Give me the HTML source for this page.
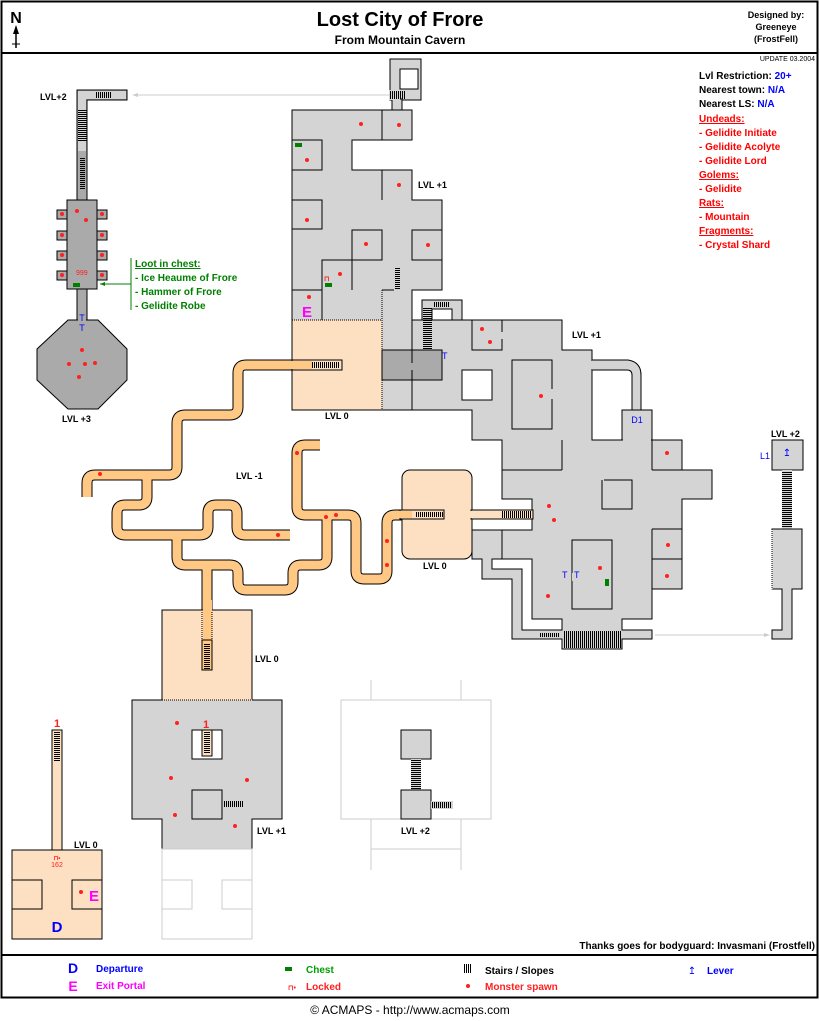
<!DOCTYPE html>
<html><head><meta charset="utf-8"><style>
html,body{margin:0;padding:0;background:#fff}
svg{display:block}
text{font-family:"Liberation Sans",sans-serif}
</style></head><body>
<svg width="820" height="1021" viewBox="0 0 820 1021" xmlns="http://www.w3.org/2000/svg" xmlns:xlink="http://www.w3.org/1999/xlink" font-weight="bold">
<defs>
<pattern id="hs" width="3" height="2" patternUnits="userSpaceOnUse"><rect width="3" height="1" fill="#000"/></pattern>
<pattern id="vs" width="2" height="3" patternUnits="userSpaceOnUse"><rect width="1" height="3" fill="#000"/></pattern>
<g id="tp">
<path d="M292,365 L246,365 Q238,365 238,373 L238,407 Q238,415 230,415 L185,415 Q177,415 177,423 L177,467 Q177,475 169,475 L95,475 Q87,475 87,483 L87,497"/>
<path d="M147,475 L147,497 Q147,505 139,505 L125,505 Q117,505 117,513 L117,527 Q117,535 125,535 L200,535 Q208,535 208,527 L208,513 Q208,505 216,505 L229,505 Q237,505 237,513 L237,527 Q237,535 245,535 L290,535"/>
<path d="M177,535 L177,557 Q177,565 185,565 L230,565 Q238,565 238,573 L238,582 Q238,590 246,590 L285,590 Q293,590 293,582 L293,573 Q293,565 301,565 L319,565 Q327,565 327,557 L327,515"/>
<path d="M207,565 L207,612"/>
<path d="M320,445 L305,445 Q297,445 297,453 L297,507 Q297,515 305,515 L348,515 Q356,515 356,523 L356,571 Q356,579 364,579 L379,579 Q387,579 387,571 L387,523 Q387,515 395,515 L403,515"/>
</g>
</defs>
<rect x="0" y="0" width="820" height="1021" fill="#fff"/>
<rect x="1.5" y="1.5" width="816" height="996" fill="none" stroke="#000" stroke-width="2"/>
<line x1="1" y1="53" x2="818" y2="53" stroke="#000" stroke-width="2"/>
<line x1="1" y1="955" x2="818" y2="955" stroke="#000" stroke-width="2"/>

<text x="16" y="23" font-size="16" text-anchor="middle">N</text>
<line x1="16" y1="27" x2="16" y2="48" stroke="#000" stroke-width="1.5"/>
<polygon points="16,25 13,34 19,34" fill="#000"/>
<line x1="12" y1="44" x2="20" y2="44" stroke="#000"/>
<text x="400" y="26" font-size="20" text-anchor="middle">Lost City of Frore</text>
<text x="400" y="44" font-size="12" text-anchor="middle">From Mountain Cavern</text>
<text x="776" y="18" font-size="9" text-anchor="middle">Designed by:</text>
<text x="776" y="30" font-size="9" text-anchor="middle">Greeneye</text>
<text x="776" y="42" font-size="9" text-anchor="middle">(FrostFell)</text>
<text x="815" y="61" font-size="7" font-weight="normal" text-anchor="end" font-family="Liberation Mono">UPDATE 03.2004</text>

<g font-size="10">
<text x="699" y="79">Lvl Restriction:  <tspan fill="#0000ff">20+</tspan></text>
<text x="699" y="93">Nearest town: <tspan fill="#0000ff">N/A</tspan></text>
<text x="699" y="107">Nearest LS:  <tspan fill="#0000ff">N/A</tspan></text>
<g fill="#ff0000">
<text x="699" y="122" text-decoration="underline">Undeads:</text>
<text x="699" y="136">- Gelidite Initiate</text>
<text x="699" y="150">- Gelidite Acolyte</text>
<text x="699" y="164">- Gelidite Lord</text>
<text x="699" y="178" text-decoration="underline">Golems:</text>
<text x="699" y="192">- Gelidite</text>
<text x="699" y="206" text-decoration="underline">Rats:</text>
<text x="699" y="220">- Mountain</text>
<text x="699" y="234" text-decoration="underline">Fragments:</text>
<text x="699" y="248">- Crystal Shard</text>
</g></g>

<rect x="390" y="59" width="31" height="41" fill="#d4d4d4" stroke="#000"/>
<rect x="400" y="69" width="18" height="20" fill="#fff" stroke="#000"/>
<rect x="392" y="99" width="10" height="12" fill="#d4d4d4" stroke="#000"/>
<rect x="389" y="90" width="11" height="10" fill="#d4d4d4"/>
<rect x="390" y="91" width="16" height="8" fill="url(#vs)"/>
<line x1="138" y1="95" x2="389" y2="95" stroke="#ccc"/>
<polygon points="132,95 138,93 138,97" fill="#ccc"/>

<path d="M77,200 L77,90 L127,90 L127,100 L87,100 L87,200 Z" fill="#aaa" stroke="#000"/>
<rect x="78" y="91" width="48" height="8" fill="#d4d4d4"/>
<rect x="78" y="91" width="8" height="60" fill="#d4d4d4"/>
<rect x="96" y="92" width="16" height="6" fill="url(#vs)"/>
<rect x="78" y="110" width="9" height="32" fill="url(#hs)"/>
<rect x="80" y="158" width="5" height="32" fill="url(#hs)"/>
<text x="40" y="100" font-size="9">LVL+2</text>

<g fill="#aaa" stroke="#000">
<rect x="57" y="210" width="10" height="9"/><rect x="97" y="210" width="10" height="9"/>
<rect x="57" y="231" width="10" height="9"/><rect x="97" y="231" width="10" height="9"/>
<rect x="57" y="251" width="10" height="9"/><rect x="97" y="251" width="10" height="9"/>
<rect x="57" y="271" width="10" height="9"/><rect x="97" y="271" width="10" height="9"/>
<rect x="67" y="200" width="30" height="89"/>
<rect x="77" y="289" width="10" height="32"/>
<polygon points="68,320 98,320 127,349 127,380 98,409 68,409 37,380 37,349"/>
</g>
<rect x="78" y="318" width="8" height="4" fill="#aaa"/>
<g fill="#ff2020">
<circle cx="62" cy="214" r="2"/><circle cx="102" cy="214" r="2"/>
<circle cx="62" cy="235" r="2"/><circle cx="102" cy="235" r="2"/>
<circle cx="62" cy="255" r="2"/><circle cx="102" cy="255" r="2"/>
<circle cx="62" cy="275" r="2"/><circle cx="102" cy="275" r="2"/>
<circle cx="77" cy="211" r="2"/><circle cx="86" cy="220" r="2"/>
<circle cx="82" cy="350" r="2"/><circle cx="69" cy="364" r="2"/><circle cx="85" cy="364" r="2"/><circle cx="95" cy="363" r="2"/><circle cx="79" cy="377" r="2"/>
</g>
<text x="76" y="275" font-size="7" fill="#ff2020" font-family="Liberation Mono" font-weight="normal">999</text>
<rect x="73" y="283" width="7" height="4" fill="#008000"/>
<text x="82" y="321" font-size="9" fill="#0000ff" font-weight="normal" text-anchor="middle">T</text>
<text x="82" y="331" font-size="9" fill="#0000ff" font-weight="normal" text-anchor="middle">T</text>
<text x="62" y="422" font-size="9">LVL +3</text>
<line x1="131" y1="258" x2="131" y2="310" stroke="#008000"/>
<line x1="100" y1="284" x2="131" y2="284" stroke="#008000"/>
<polygon points="100,284 105,282 105,286" fill="#008000"/>
<g fill="#008000" font-size="10">
<text x="135" y="267" text-decoration="underline">Loot in chest:</text>
<text x="135" y="281">- Ice Heaume of Frore</text>
<text x="135" y="295">- Hammer of Frore</text>
<text x="135" y="309">- Gelidite Robe</text>
</g>

<!-- tunnels -->
<use xlink:href="#tp" href="#tp" fill="none" stroke="#000" stroke-width="11"/>
<use xlink:href="#tp" href="#tp" fill="none" stroke="#ffc985" stroke-width="9"/>
<g fill="#ff2020">
<circle cx="100" cy="474" r="2"/><circle cx="297" cy="453" r="2"/><circle cx="326" cy="517" r="2"/><circle cx="336" cy="515" r="2"/>
<circle cx="387" cy="541" r="2"/><circle cx="387" cy="565" r="2"/><circle cx="278" cy="535" r="2"/>
</g>
<text x="236" y="479" font-size="9">LVL -1</text>

<polygon points="292,110 412,110 412,140 352,140 352,170 412,170 412,200 442,200 442,290 412,290 412,410 292,410" fill="#d4d4d4" stroke="#000"/>
<rect x="292.5" y="320" width="89.5" height="89.5" fill="#fde0c2"/>
<line x1="292" y1="320" x2="382" y2="320" stroke="#000" stroke-dasharray="1,1"/>
<line x1="382" y1="290" x2="382" y2="410" stroke="#000" stroke-dasharray="1,1"/>
<line x1="292" y1="410" x2="472" y2="410" stroke="#000"/>
<rect x="292" y="360" width="50" height="10" fill="#fde0c2" stroke="#000"/>
<rect x="282" y="361" width="30" height="8" fill="#ffc985"/>
<rect x="312" y="362" width="28" height="6" fill="url(#vs)"/>
<g fill="none" stroke="#000">
<line x1="382" y1="110" x2="382" y2="140"/>
<polyline points="292,140 322,140 322,170 292,170"/>
<line x1="382" y1="170" x2="382" y2="200"/>
<polyline points="292,200 322,200 322,229 292,229"/>
<rect x="352" y="230" width="30" height="30"/>
<polyline points="442,230 412,230 412,260 442,260"/>
<polyline points="352,260 322,260 322,290 292,290"/>
<line x1="322" y1="290" x2="322" y2="320"/>
<line x1="352" y1="260" x2="352" y2="290"/>
<line x1="382" y1="290" x2="394" y2="290"/>
</g>
<rect x="395" y="268" width="5" height="22" fill="url(#hs)"/>
<rect x="295" y="143" width="7" height="4" fill="#008000"/>
<rect x="325" y="283" width="7" height="4" fill="#008000"/>
<text x="324" y="281" font-size="7" fill="#ff2020">⊓</text>
<text x="307" y="317" font-size="15" fill="#ff00ff" text-anchor="middle">E</text>
<g fill="#ff2020">
<circle cx="361" cy="124" r="2"/><circle cx="399" cy="125" r="2"/><circle cx="307" cy="160" r="2"/><circle cx="399" cy="185" r="2"/>
<circle cx="307" cy="220" r="2"/><circle cx="366" cy="244" r="2"/><circle cx="428" cy="245" r="2"/><circle cx="340" cy="274" r="2"/><circle cx="309" cy="297" r="2"/>
</g>
<text x="418" y="188" font-size="9">LVL +1</text>
<text x="325" y="419" font-size="9">LVL 0</text>

<polygon points="412,320 562,320 562,350 592,350 592,440 622,440 622,410 652,410 652,440 682,440 682,470 712,470 712,499 682,499 682,589 652,589 652,619 622,619 622,630 652,630 652,639 622,639 622,649 562,649 562,639 512,639 512,579 482,579 482,559 472,559 472,530 532,530 532,499 502,499 502,440 472,440 472,410 412,410" fill="#d4d4d4" stroke="#000"/>
<polygon points="492,559 532,559 532,619 562,619 562,630 522,630 522,569 492,569" fill="#fff" stroke="#000"/>
<path d="M592,360 L628,360 Q641,362 641,375 L641,410 L632,410 L632,375 Q632,370 627,370 L592,370" fill="#d4d4d4" stroke="#000"/>
<rect x="591" y="361" width="3" height="8" fill="#d4d4d4"/>
<rect x="622" y="410" width="30" height="30" fill="#d4d4d4" stroke="#000"/>
<rect x="623" y="439" width="28" height="3" fill="#d4d4d4"/>
<text x="637" y="423" font-size="9" fill="#0000ff" font-weight="normal" text-anchor="middle">D1</text>
<rect x="422" y="300" width="40" height="20" fill="#d4d4d4" stroke="#000"/>
<rect x="432" y="309" width="20" height="11" fill="#fff" stroke="#000"/>
<rect x="434" y="302" width="16" height="5" fill="url(#vs)"/>
<rect x="382" y="350" width="60" height="30" fill="#aaa" stroke="#000"/>
<line x1="412" y1="350" x2="412" y2="363" stroke="#000"/>
<line x1="412" y1="370" x2="412" y2="380" stroke="#000"/>
<rect x="423" y="307" width="9" height="43" fill="url(#hs)"/>
<text x="442" y="359" font-size="9" fill="#0000ff" font-weight="normal">T</text>
<g fill="none" stroke="#000">
<rect x="462" y="370" width="30" height="30" fill="#fff"/>
<polyline points="472,330 472,320 502,320 502,332"/><polyline points="502,339 502,350 472,350 472,320"/>
<polyline points="552,389 552,360 512,360 512,429 552,429 552,399"/>
<line x1="652" y1="440" x2="652" y2="470"/><line x1="652" y1="470" x2="682" y2="470"/>
<polyline points="604,480 632,480 632,509 602,509 602,480"/>
<rect x="572" y="540" width="40" height="69"/>
<line x1="652" y1="529" x2="682" y2="529"/><line x1="652" y1="559" x2="682" y2="559"/>
<line x1="652" y1="529" x2="652" y2="589"/>
<line x1="502" y1="530" x2="502" y2="559"/>
<line x1="502" y1="470" x2="562" y2="470"/>
<line x1="562" y1="440" x2="562" y2="470"/>
</g>
<rect x="572" y="573" width="3" height="8" fill="#d4d4d4"/>
<rect x="402" y="470" width="70" height="89" rx="8" fill="#fde0c2" stroke="#000"/>
<rect x="471" y="510" width="62" height="9" fill="#fde0c2" stroke="#000"/>
<rect x="470" y="511" width="3" height="7" fill="#fde0c2"/>
<rect x="400" y="510" width="44" height="9" fill="#fde0c2" stroke="#000"/>
<rect x="398" y="511" width="14" height="7" fill="#ffc985"/>
<rect x="415" y="512" width="28" height="5" fill="url(#vs)"/>
<rect x="502" y="511" width="30" height="7" fill="url(#vs)"/>
<text x="423" y="569" font-size="9">LVL 0</text>
<rect x="563" y="631" width="58" height="17" fill="url(#vs)"/>
<rect x="540" y="633" width="20" height="4" fill="url(#vs)"/>
<line x1="655" y1="635" x2="766" y2="635" stroke="#ccc"/>
<polygon points="770,635 764,633 764,637" fill="#ccc"/>
<g fill="#ff2020">
<circle cx="482" cy="329" r="2"/><circle cx="490" cy="342" r="2"/><circle cx="541" cy="396" r="2"/><circle cx="667" cy="453" r="2"/>
<circle cx="549" cy="506" r="2"/><circle cx="554" cy="520" r="2"/><circle cx="668" cy="545" r="2"/><circle cx="600" cy="568" r="2"/>
<circle cx="548" cy="596" r="2"/><circle cx="667" cy="576" r="2"/>
</g>
<rect x="605" y="579" width="4" height="7" fill="#008000"/>
<text x="562" y="578" font-size="9" fill="#0000ff" font-weight="normal">T</text>
<text x="574" y="578" font-size="9" fill="#0000ff" font-weight="normal">T</text>
<text x="572" y="338" font-size="9">LVL +1</text>

<rect x="772" y="440" width="31" height="30" fill="#d4d4d4" stroke="#000"/>
<rect x="782" y="470" width="10" height="59" fill="#d4d4d4"/>
<rect x="782" y="472" width="10" height="56" fill="url(#hs)"/>
<path d="M772,529 L802,529 L802,589 L792,589 L792,639 L772,639 L772,630 L782,630 L782,589 L772,589 Z" fill="#d4d4d4" stroke="#000"/>
<line x1="772" y1="529" x2="772" y2="589" stroke="#fff"/>
<line x1="772" y1="529" x2="772" y2="589" stroke="#000" stroke-dasharray="1,1"/>
<text x="787" y="456" font-size="10" fill="#0000ff" font-weight="normal" text-anchor="middle">↥</text>
<text x="760" y="459" font-size="9" fill="#0000ff" font-weight="normal">L1</text>
<text x="771" y="437" font-size="9">LVL +2</text>

<rect x="162" y="610" width="90" height="90" fill="#fde0c2" stroke="#000"/>
<rect x="203" y="600" width="9" height="40" fill="#ffc985"/>
<line x1="202" y1="612" x2="202" y2="640" stroke="#000" stroke-dasharray="1,1"/>
<line x1="212" y1="612" x2="212" y2="640" stroke="#000" stroke-dasharray="1,1"/>
<rect x="202" y="640" width="10" height="30" fill="#ffc985" stroke="#000"/>
<rect x="204" y="643" width="6" height="26" fill="url(#hs)"/>
<text x="255" y="662" font-size="9">LVL 0</text>
<path d="M132,700 L282,700 L282,819 L252,819 L252,849 L162,849 L162,819 L132,819 Z" fill="#d4d4d4" stroke="#000"/>
<line x1="162" y1="849" x2="252" y2="849" stroke="#fff"/>
<line x1="162" y1="849" x2="252" y2="849" stroke="#000" stroke-dasharray="1,1"/>
<line x1="162" y1="700" x2="252" y2="700" stroke="#fde0c2"/>
<line x1="162" y1="700" x2="252" y2="700" stroke="#000" stroke-dasharray="1,1"/>
<rect x="192" y="730" width="30" height="29" fill="#fff" stroke="#000"/>
<rect x="202" y="730" width="10" height="26" fill="#fde0c2" stroke="#000"/>
<rect x="204" y="732" width="6" height="22" fill="url(#hs)"/>
<text x="206" y="728" font-size="11" fill="#ff2020" text-anchor="middle">1</text>
<rect x="192" y="790" width="30" height="29" fill="#d4d4d4" stroke="#000"/>
<rect x="223" y="801" width="20" height="6" fill="url(#vs)"/>
<g fill="#ff2020">
<circle cx="177" cy="723" r="2"/><circle cx="171" cy="778" r="2"/><circle cx="247" cy="780" r="2"/><circle cx="175" cy="815" r="2"/><circle cx="235" cy="826" r="2"/>
</g>
<text x="257" y="834" font-size="9">LVL +1</text>
<g fill="none" stroke="#ccc">
<rect x="162" y="849" width="90" height="90"/>
<rect x="162" y="880" width="30" height="29"/><rect x="222" y="880" width="30" height="29"/>
<rect x="341" y="700" width="150" height="119"/>
<line x1="371" y1="680" x2="371" y2="700"/><line x1="461" y1="680" x2="461" y2="700"/>
<polyline points="371,819 371,870"/><polyline points="461,819 461,870"/>
<line x1="371" y1="849" x2="461" y2="849"/>
</g>
<rect x="342" y="820" width="28" height="1" fill="#fff"/>
<rect x="401" y="730" width="30" height="29" fill="#d4d4d4" stroke="#000"/>
<rect x="411" y="759" width="10" height="31" fill="#d4d4d4"/>
<rect x="411" y="760" width="10" height="29" fill="url(#hs)"/>
<rect x="401" y="790" width="30" height="29" fill="#d4d4d4" stroke="#000"/>
<rect x="431" y="801" width="22" height="8" fill="#d4d4d4"/>
<rect x="432" y="802" width="20" height="6" fill="url(#vs)"/>
<text x="401" y="834" font-size="9">LVL +2</text>

<rect x="52" y="730" width="10" height="120" fill="#fde0c2" stroke="#000"/>
<rect x="54" y="731" width="6" height="30" fill="url(#hs)"/>
<text x="57" y="727" font-size="11" fill="#ff2020" text-anchor="middle">1</text>
<rect x="12" y="850" width="90" height="89" fill="#fde0c2" stroke="#000"/>
<rect x="12" y="880" width="30" height="29" fill="none" stroke="#000"/>
<rect x="72" y="880" width="30" height="29" fill="none" stroke="#000"/>
<text x="57" y="860" font-size="6" fill="#ff2020" text-anchor="middle">⊓•</text>
<text x="57" y="867" font-size="7" fill="#ff2020" text-anchor="middle" font-weight="normal">162</text>
<circle cx="81" cy="892" r="2" fill="#ff2020"/>
<text x="94" y="901" font-size="15" fill="#ff00ff" text-anchor="middle">E</text>
<text x="57" y="932" font-size="15" fill="#0000ff" text-anchor="middle">D</text>
<text x="74" y="848" font-size="9">LVL 0</text>

<text x="815" y="949" font-size="10" text-anchor="end">Thanks goes for bodyguard: Invasmani (Frostfell)</text>

<text x="73" y="973" font-size="14" fill="#0000ff" text-anchor="middle">D</text>
<text x="96" y="972" font-size="10" fill="#0000ff">Departure</text>
<text x="73" y="991" font-size="14" fill="#ff00ff" text-anchor="middle">E</text>
<text x="96" y="989" font-size="10" fill="#ff00ff">Exit Portal</text>
<rect x="285" y="967" width="7" height="4" fill="#008000"/>
<text x="306" y="973" font-size="10" fill="#00a000">Chest</text>
<text x="288" y="990" font-size="7" fill="#ff2020">⊓•</text>
<text x="306" y="990" font-size="10" fill="#ff2020">Locked</text>
<rect x="463" y="964" width="8" height="9" fill="url(#vs)"/>
<text x="485" y="974" font-size="10">Stairs / Slopes</text>
<circle cx="468" cy="986" r="2" fill="#ff2020"/>
<text x="485" y="990" font-size="10" fill="#ff2020">Monster spawn</text>
<text x="692" y="974" font-size="10" fill="#0000ff" font-weight="normal" text-anchor="middle">↥</text>
<text x="707" y="974" font-size="10" fill="#0000ff">Lever</text>
<text x="410" y="1014" font-size="12" font-weight="normal" text-anchor="middle">© ACMAPS - http://www.acmaps.com</text>
</svg>
</body></html>
